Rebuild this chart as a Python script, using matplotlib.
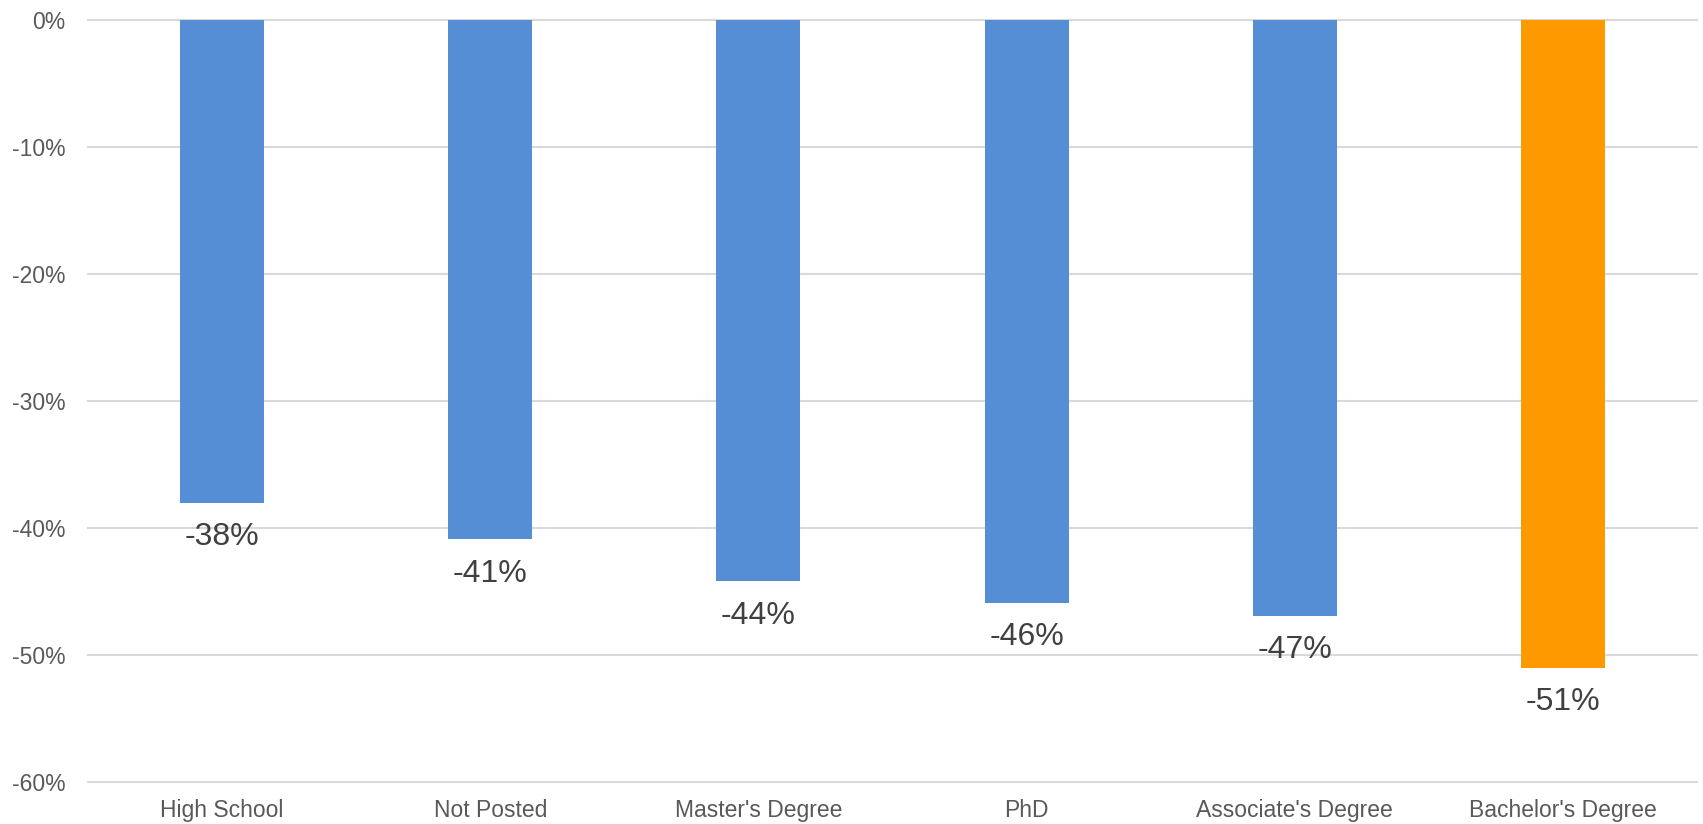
import matplotlib
matplotlib.use("Agg")
import matplotlib.pyplot as plt
from matplotlib.ticker import FuncFormatter

categories = ["High School", "Not Posted", "Master's Degree", "PhD",
              "Associate's Degree", "Bachelor's Degree"]
changes = [-38.0, -40.9, -44.2, -45.9, -46.9, -51.0]
bar_colors = ["#558ED5", "#558ED5", "#558ED5", "#558ED5", "#558ED5", "#FF9900"]
y_ticks = [0, -10, -20, -30, -40, -50, -60]

plt.rcParams["font.family"] = ["Liberation Sans", "DejaVu Sans"]

fig = plt.figure(figsize=(17.03, 8.24), dpi=100)
ax = fig.add_axes([0.0517, 0.051, 0.9448, 0.9247])

x = range(len(categories))
bars = ax.bar(x, changes, width=0.313, color=bar_colors, zorder=3)

for xi, v in zip(x, changes):
    ax.annotate(f"{v:.0f}%", xy=(xi, v), xytext=(0, -14),
                textcoords="offset points", ha="center", va="top",
                fontsize=23, color="#404040", zorder=4)

ax.set_xlim(-0.5, len(categories) - 0.5)
ax.set_ylim(-60, 0)
ax.set_yticks(y_ticks)
ax.yaxis.set_major_formatter(FuncFormatter(lambda v, p: f"{v:.0f}%"))
ax.set_xticks(list(x))
ax.set_xticklabels(categories)

ax.grid(axis="y", color="#D9D9D9", linewidth=1.5, zorder=0)
ax.tick_params(axis="both", length=0, labelsize=16.5, labelcolor="#595959")
ax.tick_params(axis="y", pad=16)
ax.tick_params(axis="x", pad=12)
for s in ax.spines.values():
    s.set_visible(False)
for gl in ax.get_ygridlines():
    gl.set_clip_on(False)

fig.savefig("out.png", dpi=100, facecolor="white")
